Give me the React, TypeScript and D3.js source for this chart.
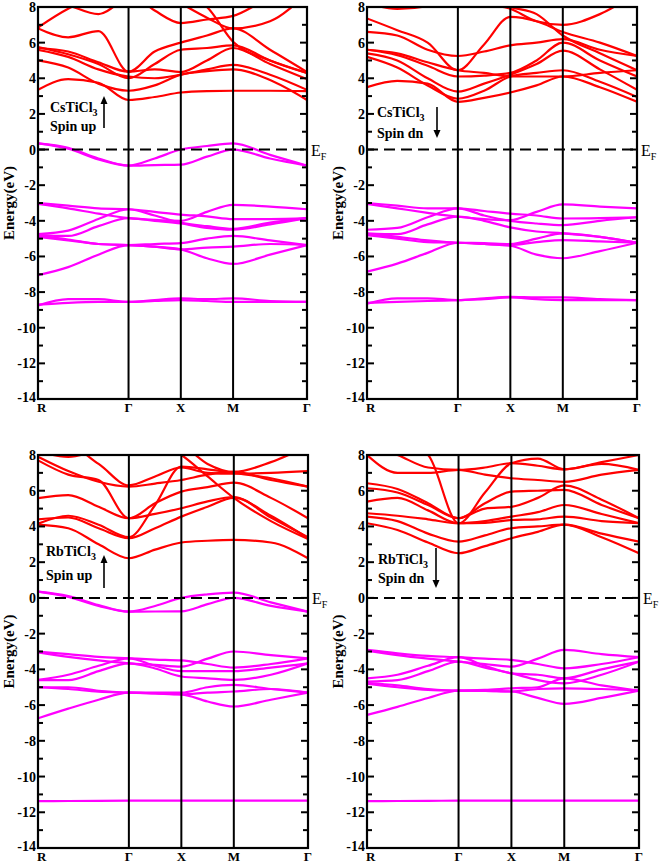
import React from "react";
import * as d3 from "d3";

// k-path: R -> Γ -> X -> M -> Γ (path lengths √3, 1, 1, √2)
const kLabels = ["R", "Γ", "X", "M", "Γ"];
const kNodes = [0, 1.732, 2.732, 3.732, 5.146];
const kSamples = [0, 0.577, 1.155, 1.732, 2.232, 2.732, 3.232, 3.732, 4.439, 5.146];
const yTickValues = d3.range(-14, 9, 1);
const yLabelValues = [8, 6, 4, 2, 0, -2, -4, -6, -8, -10, -12, -14];

// ---------- CsTiCl3 spin up ----------
const csUpCond = [
  [3.35, 3.95, 3.75, 2.78, 2.95, 3.2, 3.28, 3.3, 3.3, 3.28],
  [5.0, 4.6, 3.7, 3.3, 3.6, 4.2, 4.4, 4.5, 3.9, 2.78],
  [5.6, 5.2, 4.5, 4.1, 4.0, 4.2, 4.5, 4.75, 4.2, 3.35],
  [5.7, 5.5, 4.9, 4.37, 4.5, 4.35, 5.0, 5.7, 4.8, 3.95],
  [5.75, 5.35, 4.8, 4.0, 4.8, 5.6, 5.7, 5.85, 5.0, 4.3],
  [6.8, 6.3, 6.65, 4.37, 5.5, 6.0, 6.4, 6.8, 5.6, 4.35],
  [6.85, 7.9, 8.6, 8.8, 7.8, 7.1, 7.3, 7.5, 8.5, 9.0],
  [8.6, 8.1, 7.6, 8.6, 9.0, 8.2, 7.4, 6.8, 7.2, 8.8],
  [9.2, 9.0, 8.8, 9.5, 9.0, 8.8, 8.0, 6.05, 5.0, 4.3],
];
const csUpVal = [
  [0.35, 0.1, -0.5, -0.9, -0.5, 0.0, 0.2, 0.35, -0.3, -0.9],
  [0.35, 0.05, -0.55, -0.9, -0.87, -0.85, -0.4, 0.0, -0.5, -0.9],
  [-3.0, -3.15, -3.3, -3.35, -3.5, -3.65, -3.75, -3.9, -3.9, -3.85],
  [-3.05, -3.3, -3.6, -3.85, -3.95, -4.0, -3.5, -3.1, -3.2, -3.35],
  [-4.75, -4.55, -3.9, -3.35, -3.7, -4.1, -4.3, -4.45, -4.1, -3.85],
  [-4.8, -4.85, -4.3, -3.85, -4.0, -4.15, -4.4, -4.5, -4.2, -3.85],
  [-4.85, -5.05, -5.3, -5.36, -5.3, -5.25, -5.0, -4.85, -5.1, -5.36],
  [-4.9, -5.1, -5.3, -5.36, -5.45, -5.6, -5.5, -5.45, -5.3, -5.36],
  [-7.05, -6.6, -5.9, -5.36, -5.45, -5.6, -6.1, -6.42, -5.9, -5.36],
  [-8.75, -8.4, -8.4, -8.55, -8.45, -8.35, -8.4, -8.35, -8.5, -8.55],
  [-8.7, -8.6, -8.55, -8.55, -8.5, -8.45, -8.5, -8.55, -8.55, -8.55],
];

// ---------- CsTiCl3 spin down ----------
const csDnCond = [
  [3.5, 3.85, 3.7, 2.68, 2.9, 3.2, 3.6, 4.1, 3.5, 2.68],
  [5.2, 4.6, 3.6, 2.85, 3.3, 4.1, 4.3, 4.45, 3.8, 2.95],
  [5.4, 5.0, 4.0, 3.25, 3.7, 4.2, 4.8, 5.55, 4.5, 3.35],
  [5.6, 5.3, 4.7, 4.1, 4.15, 4.3, 5.0, 6.0, 5.0, 4.1],
  [5.6, 5.4, 4.9, 4.45, 4.3, 4.1, 4.1, 4.1, 4.3, 4.45],
  [6.6, 6.4, 5.6, 5.25, 5.5, 5.85, 6.0, 6.2, 5.6, 5.25],
  [7.36, 6.7, 6.0, 4.45, 5.9, 7.45, 7.2, 6.6, 6.0, 5.25],
  [8.2, 7.9, 8.05, 8.8, 8.2, 7.9, 7.2, 7.0, 7.6, 8.8],
  [9.2, 9.1, 9.0, 9.2, 8.6, 8.0, 7.6, 6.4, 5.4, 4.45],
];
const csDnVal = [
  [-3.0, -3.15, -3.3, -3.3, -3.45, -3.6, -3.7, -3.87, -3.85, -3.8],
  [-3.05, -3.3, -3.55, -3.77, -3.9, -3.96, -3.5, -3.08, -3.2, -3.3],
  [-4.5, -4.4, -3.8, -3.3, -3.7, -4.0, -4.15, -4.24, -4.0, -3.8],
  [-4.7, -4.75, -4.2, -3.77, -4.0, -4.37, -4.6, -4.7, -4.9, -5.23],
  [-4.75, -4.9, -5.1, -5.23, -5.25, -5.3, -5.0, -4.7, -4.9, -5.23],
  [-4.8, -5.0, -5.2, -5.23, -5.3, -5.36, -5.2, -5.08, -5.15, -5.23],
  [-6.85, -6.4, -5.8, -5.23, -5.3, -5.4, -5.9, -6.1, -5.7, -5.23],
  [-8.65, -8.35, -8.35, -8.45, -8.35, -8.27, -8.3, -8.3, -8.4, -8.45],
  [-8.6, -8.55, -8.5, -8.45, -8.4, -8.3, -8.4, -8.45, -8.45, -8.45],
];

// ---------- RbTiCl3 spin up ----------
const rbUpCond = [
  [4.1, 3.9, 3.0, 2.22, 2.7, 3.1, 3.2, 3.25, 3.1, 2.22],
  [4.4, 4.5, 3.9, 3.34, 3.9, 4.55, 5.1, 5.6, 4.6, 3.34],
  [4.15, 4.6, 4.1, 3.4, 5.2, 7.35, 7.2, 7.0, 6.7, 6.23],
  [5.58, 5.75, 5.1, 4.46, 4.7, 5.02, 5.4, 5.65, 4.5, 3.4],
  [7.7, 6.9, 6.6, 4.46, 5.3, 5.95, 6.2, 6.45, 5.6, 4.46],
  [7.9, 7.1, 6.5, 6.23, 6.4, 6.6, 6.9, 7.05, 6.6, 6.23],
  [8.3, 8.5, 7.5, 6.3, 6.8, 7.3, 7.0, 6.95, 7.0, 7.1],
  [9.2, 9.1, 9.0, 9.2, 8.7, 8.0, 6.8, 5.6, 4.3, 3.3],
  [8.2, 7.9, 8.3, 9.0, 9.0, 8.6, 7.5, 7.05, 7.6, 8.5],
];
const rbUpVal = [
  [0.35, 0.1, -0.4, -0.77, -0.45, 0.0, 0.2, 0.3, -0.25, -0.77],
  [0.35, 0.05, -0.45, -0.77, -0.76, -0.75, -0.35, 0.0, -0.45, -0.77],
  [-3.0, -3.15, -3.3, -3.38, -3.45, -3.5, -3.7, -3.9, -3.7, -3.38],
  [-3.05, -3.3, -3.5, -3.66, -3.75, -3.85, -3.4, -3.0, -3.2, -3.38],
  [-4.59, -4.3, -3.8, -3.38, -3.8, -4.1, -4.1, -4.1, -3.9, -3.66],
  [-4.6, -4.6, -4.1, -3.66, -3.95, -4.4, -4.5, -4.59, -4.3, -3.66],
  [-5.0, -5.0, -5.2, -5.3, -5.3, -5.3, -5.0, -4.87, -5.1, -5.3],
  [-5.0, -5.1, -5.25, -5.3, -5.35, -5.4, -5.3, -5.24, -5.1, -5.3],
  [-6.74, -6.2, -5.7, -5.3, -5.35, -5.4, -5.8, -6.08, -5.7, -5.3],
  [-11.38, -11.37, -11.36, -11.35, -11.35, -11.35, -11.35, -11.35, -11.35, -11.35],
];

// ---------- RbTiCl3 spin down ----------
const rbDnCond = [
  [4.18, 3.8, 3.1, 2.5, 2.9, 3.34, 3.7, 4.1, 3.4, 2.5],
  [4.55, 4.3, 3.6, 3.15, 3.5, 3.9, 4.0, 4.1, 3.6, 3.15],
  [4.74, 4.6, 4.4, 4.18, 4.2, 4.36, 4.4, 4.55, 4.3, 4.18],
  [5.39, 5.6, 4.9, 4.18, 4.3, 4.55, 4.8, 5.2, 4.7, 4.18],
  [6.14, 5.9, 5.2, 4.46, 5.3, 5.95, 6.0, 6.05, 5.2, 4.46],
  [6.42, 6.1, 5.3, 4.46, 5.0, 5.1, 5.6, 6.3, 5.5, 4.46],
  [8.0, 7.0, 7.0, 7.17, 6.9, 6.7, 6.6, 6.5, 6.9, 7.17],
  [8.6, 8.0, 7.3, 7.17, 7.3, 7.54, 7.4, 7.2, 7.5, 7.17],
  [9.2, 8.8, 8.0, 4.18, 5.9, 7.54, 7.8, 7.2, 7.6, 8.0],
];
const rbDnVal = [
  [-2.91, -3.1, -3.25, -3.32, -3.4, -3.47, -3.7, -3.94, -3.7, -3.32],
  [-2.95, -3.2, -3.4, -3.57, -3.7, -3.85, -3.4, -2.91, -3.15, -3.32],
  [-4.5, -4.3, -3.8, -3.32, -3.8, -4.22, -4.3, -4.5, -4.0, -3.57],
  [-4.68, -4.6, -4.1, -3.57, -3.9, -4.22, -4.6, -4.78, -4.3, -3.57],
  [-4.75, -4.9, -5.1, -5.19, -5.15, -5.06, -5.0, -4.5, -4.9, -5.19],
  [-4.8, -5.0, -5.15, -5.19, -5.2, -5.24, -5.1, -5.06, -5.1, -5.19],
  [-6.55, -6.1, -5.6, -5.19, -5.2, -5.24, -5.6, -5.93, -5.6, -5.19],
  [-11.38, -11.37, -11.36, -11.35, -11.35, -11.35, -11.35, -11.35, -11.35, -11.35],
];

const FONT = "'Liberation Serif', 'DejaVu Serif', serif";

type PanelProps = {
  id: string;
  x0: number; x1: number; yTop: number; yBot: number;
  cond: number[][]; val: number[][];
  compound: string; spin: string; up: boolean;
  labelX: number; labelY: number; spinY: number;
  arrowX: number; arrowY0: number; arrowY1: number;
};

function Panel(p: PanelProps) {
  const x = d3.scaleLinear().domain([0, kNodes[kNodes.length - 1]]).range([p.x0, p.x1]);
  const y = d3.scaleLinear().domain([-14, 8]).range([p.yBot, p.yTop]);
  const line = d3.line<number>()
    .x((_, i) => x(kSamples[i]))
    .y((d) => y(d))
    .curve(d3.curveMonotoneX);
  const clip = `clip-${p.id}`;
  const head = p.up
    ? `M${p.arrowX - 3.5},${p.arrowY1 + 8}L${p.arrowX + 3.5},${p.arrowY1 + 8}L${p.arrowX},${p.arrowY1}Z`
    : `M${p.arrowX - 3.5},${p.arrowY1 - 8}L${p.arrowX + 3.5},${p.arrowY1 - 8}L${p.arrowX},${p.arrowY1}Z`;
  return (
    <g fontFamily={FONT} fill="#000">
      <defs>
        <clipPath id={clip}>
          <rect x={p.x0} y={p.yTop} width={p.x1 - p.x0} height={p.yBot - p.yTop} />
        </clipPath>
      </defs>
      <g clipPath={`url(#${clip})`}>
        {p.cond.map((b, i) => (
          <path key={"c" + i} d={line(b) || ""} fill="none" stroke="#ff0000" strokeWidth={2.2} />
        ))}
        {p.val.map((b, i) => (
          <path key={"v" + i} d={line(b) || ""} fill="none" stroke="#ff00ff" strokeWidth={2.2} />
        ))}
      </g>
      <line x1={p.x0} x2={p.x1} y1={y(0)} y2={y(0)} stroke="#000" strokeWidth={2} strokeDasharray="11,6" />
      {kNodes.slice(1, -1).map((k, i) => (
        <line key={"k" + i} x1={x(k)} x2={x(k)} y1={p.yTop} y2={p.yBot} stroke="#000" strokeWidth={2} />
      ))}
      {yTickValues.map((t) => {
        const len = t % 2 === 0 ? 7 : 5;
        return (
          <g key={"t" + t}>
            <line x1={p.x0} x2={p.x0 + len} y1={y(t)} y2={y(t)} stroke="#000" strokeWidth={2} />
            <line x1={p.x1} x2={p.x1 - len} y1={y(t)} y2={y(t)} stroke="#000" strokeWidth={2} />
          </g>
        );
      })}
      <rect x={p.x0} y={p.yTop} width={p.x1 - p.x0} height={p.yBot - p.yTop} fill="none" stroke="#000" strokeWidth={2.2} />
      {yLabelValues.map((t) => (
        <text key={"l" + t} x={p.x0 - 2} y={y(t) + (t === -14 ? 3 : 5)} textAnchor="end" fontSize={14} fontWeight="bold" fill="#000">{t}</text>
      ))}
      {kNodes.map((k, i) => (
        <text key={"x" + i} x={i === 0 ? x(k) - 1 : x(k)} y={p.yBot + 13}
          textAnchor={i === 0 ? "start" : "middle"} fontSize={13} fontWeight="bold" fill="#000">{kLabels[i]}</text>
      ))}
      <text transform={`translate(${p.x0 - 24},${(p.yTop + p.yBot) / 2}) rotate(-90)`} textAnchor="middle" fontSize={15} fontWeight="bold" fill="#000">Energy(eV)</text>
      <text x={p.x1 + 4} y={y(0) + 6} fontSize={16} fill="#000">E<tspan fontSize={10} dy={4}>F</tspan></text>
      <text x={p.labelX} y={p.labelY} fontSize={14} fontWeight="bold" fill="#000">{p.compound}<tspan fontSize={10} dy={4}>3</tspan></text>
      <text x={p.labelX} y={p.spinY} fontSize={14} fontWeight="bold" fill="#000">{p.spin}</text>
      <line x1={p.arrowX} x2={p.arrowX} y1={p.arrowY0} y2={p.up ? p.arrowY1 + 6 : p.arrowY1 - 6} stroke="#000" strokeWidth={1.6} />
      <path d={head} fill="#000" />
    </g>
  );
}

export default function App() {
  return (
    <svg width={661} height={864} style={{ position: "absolute", left: 0, top: 0, background: "#fff" }}>
      <rect x={0} y={0} width={661} height={864} fill="#fff" />
      <Panel id="a" x0={38} x1={307} yTop={7} yBot={399} cond={csUpCond} val={csUpVal}
        compound="CsTiCl" spin="Spin up" up={true} labelX={50} labelY={112} spinY={131}
        arrowX={104} arrowY0={128} arrowY1={96} />
      <Panel id="b" x0={367} x1={637} yTop={7} yBot={399} cond={csDnCond} val={csDnVal}
        compound="CsTiCl" spin="Spin dn" up={false} labelX={377} labelY={117} spinY={138}
        arrowX={437} arrowY0={107} arrowY1={138} />
      <Panel id="c" x0={38} x1={308} yTop={455} yBot={848} cond={rbUpCond} val={rbUpVal}
        compound="RbTiCl" spin="Spin up" up={true} labelX={46} labelY={556} spinY={580}
        arrowX={104} arrowY0={588} arrowY1={555} />
      <Panel id="d" x0={367} x1={639} yTop={455} yBot={848} cond={rbDnCond} val={rbDnVal}
        compound="RbTiCl" spin="Spin dn" up={false} labelX={378} labelY={564} spinY={583}
        arrowX={436} arrowY0={548} arrowY1={588} />
    </svg>
  );
}
